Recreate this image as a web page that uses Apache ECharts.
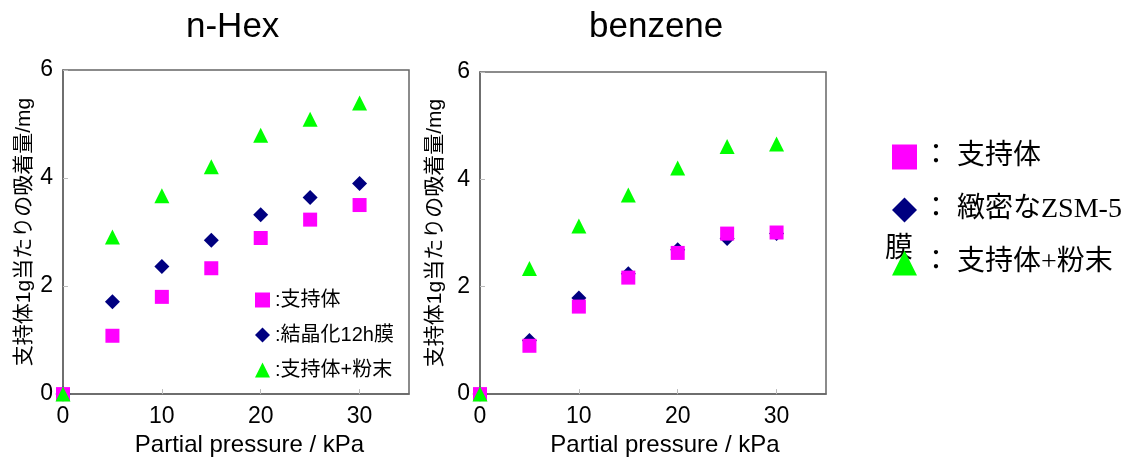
<!DOCTYPE html>
<html>
<head>
<meta charset="utf-8">
<script src="https://cdn.jsdelivr.net/npm/echarts@6/dist/echarts.min.js"></script>
<style>
  html, body { margin: 0; padding: 0; background: #fff; }
  #main { width: 1146px; height: 462px; }
</style>
</head>
<body>
<div id="main"></div>
<script>
// partial pressure / kPa
const pressure = [0, 5, 10, 15, 20, 25, 30];

// n-Hex
const hexSupport  = [0, 1.08, 1.80, 2.33, 2.89, 3.23, 3.50];
const hexMembrane = [0, 1.71, 2.36, 2.85, 3.32, 3.64, 3.90];
const hexPowder   = [0, 2.91, 3.67, 4.21, 4.79, 5.09, 5.39];

// benzene
const benSupport  = [0, 0.90, 1.63, 2.17, 2.63, 2.99, 3.01];
const benMembrane = [0, 1.00, 1.79, 2.24, 2.69, 2.90, 2.99];
const benPowder   = [0, 2.34, 3.13, 3.71, 4.21, 4.61, 4.66];

const titles = ['n-Hex', 'benzene'];
const xName = 'Partial pressure / kPa';
const yName = '支持体1g当たりの吸着量/mg';
const nameSupport = '支持体';
const nameHexMem = '結晶化12h膜';
const nameBenMem = '緻密なZSM-5膜';
const namePowder = '支持体+粉末';

const SANS = "'Liberation Sans', Arial, 'Noto Sans CJK JP', sans-serif";
const SERIF = "'Liberation Serif', 'Noto Sans CJK JP', serif";

const chart = echarts.init(document.getElementById('main'), null, { renderer: 'canvas' });

function pairs(ys) {
  return ys.map((y, i) => [pressure[i], y]);
}

function xAxisFor(idx, shift) {
  return {
    gridIndex: idx,
    type: 'value',
    min: 0, max: 35, interval: 10,
    name: xName,
    nameLocation: 'middle',
    nameGap: 30,
    nameTextStyle: { fontFamily: SANS, fontSize: 24, color: '#000', padding: [0, 0, 0, shift] },
    axisLine: { show: true, onZero: false, lineStyle: { color: '#666', width: 1.5 } },
    axisTick: { show: true, inside: true, length: 5, lineStyle: { color: '#bbb' } },
    axisLabel: { fontFamily: SANS, fontSize: 23, color: '#000', margin: 11, showMaxLabel: false },
    splitLine: { show: false }
  };
}

function yAxisFor(idx, gap) {
  return {
    gridIndex: idx,
    type: 'value',
    min: 0, max: 6, interval: 2,
    name: yName,
    nameLocation: 'middle',
    nameRotate: 90,
    nameGap: gap,
    nameTextStyle: { fontFamily: SANS, fontSize: 21, color: '#000' },
    axisLine: { show: true, onZero: false, lineStyle: { color: '#666', width: 1.5 } },
    axisTick: { show: true, inside: true, length: 5, lineStyle: { color: '#bbb' } },
    axisLabel: { fontFamily: SANS, fontSize: 23, color: '#000', margin: 10 },
    splitLine: { show: false }
  };
}

function scatter(name, ys, idx, symbol, color, size) {
  return {
    name: name,
    type: 'scatter',
    xAxisIndex: idx,
    yAxisIndex: idx,
    symbol: symbol,
    symbolSize: size,
    clip: false,
    itemStyle: { color: color, opacity: 1 },
    data: pairs(ys)
  };
}

const option = {
  backgroundColor: '#fff',
  animation: false,
  title: [
    { text: titles[0], left: 181, top: 5, textStyle: { fontFamily: SANS, fontSize: 35, fontWeight: 'normal', color: '#000' } },
    { text: titles[1], left: 584, top: 5, textStyle: { fontFamily: SANS, fontSize: 35, fontWeight: 'normal', color: '#000' } }
  ],
  grid: [
    { left: 63, top: 70, width: 346, height: 327, show: true, borderColor: '#666', borderWidth: 1.5, backgroundColor: 'transparent' },
    { left: 480, top: 72, width: 346, height: 327, show: true, borderColor: '#666', borderWidth: 1.5, backgroundColor: 'transparent' }
  ],
  xAxis: [xAxisFor(0, 27), xAxisFor(1, 24)],
  yAxis: [yAxisFor(0, 28), yAxisFor(1, 34)],
  legend: [
    {
      left: 250, top: 285, orient: 'vertical',
      itemWidth: 15, itemHeight: 15, itemGap: 15,
      selectedMode: false,
      textStyle: { fontFamily: SANS, fontSize: 20, color: '#000', lineHeight: 18 },
      formatter: n => ':' + n,
      data: [
        { name: nameSupport, icon: 'rect' },
        { name: nameHexMem, icon: 'diamond' },
        { name: namePowder, icon: 'triangle' }
      ]
    },
    {
      left: 887, top: 138, orient: 'vertical',
      itemWidth: 25, itemHeight: 25, itemGap: 25,
      selectedMode: false,
      textStyle: { fontFamily: SERIF, fontSize: 28, color: '#000', lineHeight: 25 },
      formatter: n => '： ' + (n === nameBenMem ? '緻密なZSM-5' : n),
      data: [
        { name: nameSupport, icon: 'rect' },
        { name: nameBenMem, icon: 'diamond' },
        { name: namePowder, icon: 'triangle' }
      ]
    }
  ],
  graphic: [
    { type: 'text', left: 885, top: 236, z: 0, style: { text: '膜', font: "28px " + SERIF, fill: '#000' } }
  ],
  series: [
    scatter(nameHexMem, hexMembrane, 0, 'diamond', '#000080', 15),
    scatter(nameSupport, hexSupport, 0, 'rect', '#ff00ff', 14),
    scatter(namePowder, hexPowder, 0, 'triangle', '#00ff00', 15),
    scatter(nameBenMem, benMembrane, 1, 'diamond', '#000080', 15),
    scatter(nameSupport, benSupport, 1, 'rect', '#ff00ff', 14),
    scatter(namePowder, benPowder, 1, 'triangle', '#00ff00', 15)
  ]
};

chart.setOption(option);
</script>
</body>
</html>
